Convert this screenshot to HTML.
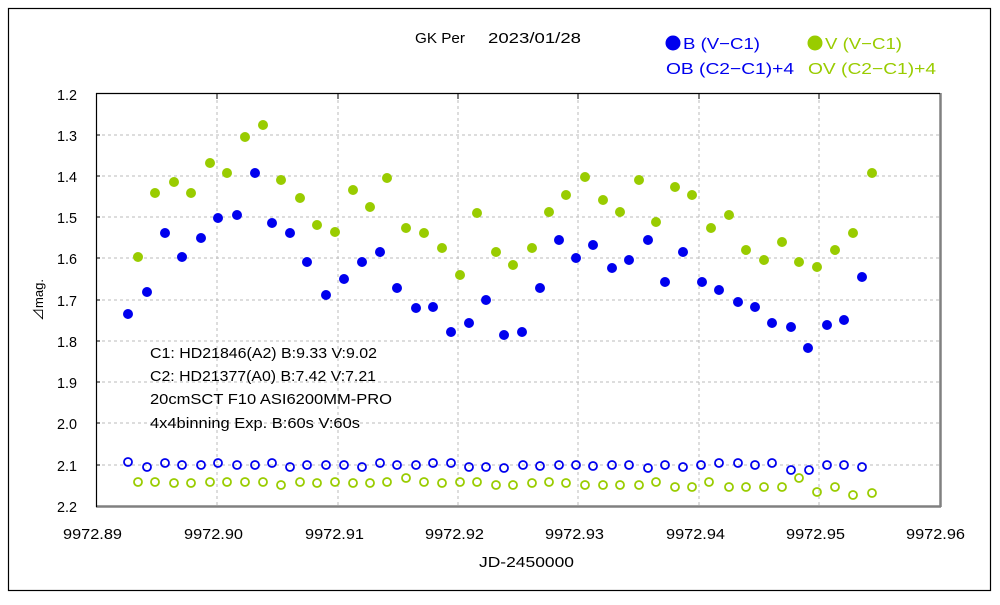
<!DOCTYPE html>
<html><head><meta charset="utf-8"><style>
body{margin:0;background:#fff;}
svg text{font-family:"Liberation Sans","Noto Sans CJK JP",sans-serif;}
</style></head><body>
<svg width="1000" height="600" xmlns="http://www.w3.org/2000/svg">
<rect x="0" y="0" width="1000" height="600" fill="#fff"/>
<rect x="8.5" y="8.5" width="982" height="582" fill="none" stroke="#000" stroke-width="1.2"/>
<g stroke="#bbb" stroke-dasharray="3,3" stroke-width="1">
<line x1="96" y1="135" x2="940" y2="135"/><line x1="96" y1="176" x2="940" y2="176"/>
<line x1="96" y1="217" x2="940" y2="217"/><line x1="96" y1="258" x2="940" y2="258"/>
<line x1="96" y1="300" x2="940" y2="300"/><line x1="96" y1="341" x2="940" y2="341"/>
<line x1="96" y1="382" x2="940" y2="382"/><line x1="96" y1="423" x2="940" y2="423"/>
<line x1="96" y1="465" x2="940" y2="465"/>
<line x1="217" y1="94" x2="217" y2="506"/><line x1="338" y1="94" x2="338" y2="506"/>
<line x1="458" y1="94" x2="458" y2="506"/><line x1="578" y1="94" x2="578" y2="506"/>
<line x1="699" y1="94" x2="699" y2="506"/><line x1="819" y1="94" x2="819" y2="506"/>
</g>
<g stroke="#000" stroke-width="1">
<line x1="96" y1="135" x2="100" y2="135"/><line x1="96" y1="176" x2="100" y2="176"/>
<line x1="96" y1="217" x2="100" y2="217"/><line x1="96" y1="258" x2="100" y2="258"/>
<line x1="96" y1="300" x2="100" y2="300"/><line x1="96" y1="341" x2="100" y2="341"/>
<line x1="96" y1="382" x2="100" y2="382"/><line x1="96" y1="423" x2="100" y2="423"/>
<line x1="96" y1="465" x2="100" y2="465"/>
<line x1="217" y1="94" x2="217" y2="99"/><line x1="338" y1="94" x2="338" y2="99"/>
<line x1="458" y1="94" x2="458" y2="99"/><line x1="578" y1="94" x2="578" y2="99"/>
<line x1="699" y1="94" x2="699" y2="99"/><line x1="819" y1="94" x2="819" y2="99"/>
</g>
<line x1="96" y1="506.5" x2="941" y2="506.5" stroke="#808080" stroke-width="2.5"/>
<line x1="940.5" y1="93" x2="940.5" y2="507" stroke="#808080" stroke-width="2.5"/>
<line x1="96" y1="93.5" x2="940" y2="93.5" stroke="#000" stroke-width="1.2"/>
<line x1="96.5" y1="93" x2="96.5" y2="507" stroke="#000" stroke-width="1.2"/>
<g font-size="15" fill="#000">
<text x="57" y="100" textLength="20" lengthAdjust="spacingAndGlyphs">1.2</text><text x="57" y="141" textLength="20" lengthAdjust="spacingAndGlyphs">1.3</text><text x="57" y="182" textLength="20" lengthAdjust="spacingAndGlyphs">1.4</text>
<text x="57" y="223" textLength="20" lengthAdjust="spacingAndGlyphs">1.5</text><text x="57" y="264" textLength="20" lengthAdjust="spacingAndGlyphs">1.6</text><text x="57" y="306" textLength="20" lengthAdjust="spacingAndGlyphs">1.7</text>
<text x="57" y="347" textLength="20" lengthAdjust="spacingAndGlyphs">1.8</text><text x="57" y="388" textLength="20" lengthAdjust="spacingAndGlyphs">1.9</text><text x="57" y="429" textLength="20" lengthAdjust="spacingAndGlyphs">2.0</text>
<text x="57" y="471" textLength="20" lengthAdjust="spacingAndGlyphs">2.1</text><text x="57" y="512" textLength="20" lengthAdjust="spacingAndGlyphs">2.2</text>
</g>
<g font-size="15" fill="#000">
<text x="63" y="539" textLength="59" lengthAdjust="spacingAndGlyphs">9972.89</text><text x="184" y="539" textLength="59" lengthAdjust="spacingAndGlyphs">9972.90</text><text x="305" y="539" textLength="59" lengthAdjust="spacingAndGlyphs">9972.91</text>
<text x="425" y="539" textLength="59" lengthAdjust="spacingAndGlyphs">9972.92</text><text x="545" y="539" textLength="59" lengthAdjust="spacingAndGlyphs">9972.93</text><text x="666" y="539" textLength="59" lengthAdjust="spacingAndGlyphs">9972.94</text>
<text x="786" y="539" textLength="59" lengthAdjust="spacingAndGlyphs">9972.95</text><text x="906" y="539" textLength="59" lengthAdjust="spacingAndGlyphs">9972.96</text>
<text x="479" y="567" textLength="95" lengthAdjust="spacingAndGlyphs">JD-2450000</text>
</g>
<text x="43" y="300" font-size="13" text-anchor="middle" transform="rotate(-90 43 300)">⊿mag.</text>
<text x="415" y="43" font-size="15" textLength="50" lengthAdjust="spacingAndGlyphs">GK Per</text>
<text x="488" y="43" font-size="15" textLength="93" lengthAdjust="spacingAndGlyphs">2023/01/28</text>
<g font-size="16">
<circle cx="673" cy="43" r="7.5" fill="#0000ee"/><text x="683" y="49" fill="#0000ee" textLength="77" lengthAdjust="spacingAndGlyphs">B (V−C1)</text>
<circle cx="815" cy="43" r="7.5" fill="#99cc00"/><text x="825" y="49" fill="#99cc00" textLength="77" lengthAdjust="spacingAndGlyphs">V (V−C1)</text>
<text x="666" y="74" fill="#0000ee" textLength="128" lengthAdjust="spacingAndGlyphs">OB (C2−C1)+4</text>
<text x="808" y="74" fill="#99cc00" textLength="128" lengthAdjust="spacingAndGlyphs">OV (C2−C1)+4</text>
</g>
<g font-size="15" fill="#000">
<text x="150" y="358" textLength="227" lengthAdjust="spacingAndGlyphs">C1: HD21846(A2) B:9.33 V:9.02</text>
<text x="150" y="381" textLength="226" lengthAdjust="spacingAndGlyphs">C2: HD21377(A0) B:7.42 V:7.21</text>
<text x="150" y="404" textLength="242" lengthAdjust="spacingAndGlyphs">20cmSCT F10 ASI6200MM-PRO</text>
<text x="150" y="428" textLength="210" lengthAdjust="spacingAndGlyphs">4x4binning Exp. B:60s  V:60s</text>
</g>
<g fill="#0000ee">
<circle cx="128" cy="314" r="5"/><circle cx="147" cy="292" r="5"/><circle cx="165" cy="233" r="5"/><circle cx="182" cy="257" r="5"/><circle cx="201" cy="238" r="5"/><circle cx="218" cy="218" r="5"/><circle cx="237" cy="215" r="5"/><circle cx="255" cy="173" r="5"/><circle cx="272" cy="223" r="5"/><circle cx="290" cy="233" r="5"/><circle cx="307" cy="262" r="5"/><circle cx="326" cy="295" r="5"/><circle cx="344" cy="279" r="5"/><circle cx="362" cy="262" r="5"/><circle cx="380" cy="252" r="5"/><circle cx="397" cy="288" r="5"/><circle cx="416" cy="308" r="5"/><circle cx="433" cy="307" r="5"/><circle cx="451" cy="332" r="5"/><circle cx="469" cy="323" r="5"/><circle cx="486" cy="300" r="5"/><circle cx="504" cy="335" r="5"/><circle cx="522" cy="332" r="5"/><circle cx="540" cy="288" r="5"/><circle cx="559" cy="240" r="5"/><circle cx="576" cy="258" r="5"/><circle cx="593" cy="245" r="5"/><circle cx="612" cy="268" r="5"/><circle cx="629" cy="260" r="5"/><circle cx="648" cy="240" r="5"/><circle cx="665" cy="282" r="5"/><circle cx="683" cy="252" r="5"/><circle cx="702" cy="282" r="5"/><circle cx="719" cy="290" r="5"/><circle cx="738" cy="302" r="5"/><circle cx="755" cy="307" r="5"/><circle cx="772" cy="323" r="5"/><circle cx="791" cy="327" r="5"/><circle cx="808" cy="348" r="5"/><circle cx="827" cy="325" r="5"/><circle cx="844" cy="320" r="5"/><circle cx="862" cy="277" r="5"/>
</g>
<g fill="#99cc00">
<circle cx="138" cy="257" r="5"/><circle cx="155" cy="193" r="5"/><circle cx="174" cy="182" r="5"/><circle cx="191" cy="193" r="5"/><circle cx="210" cy="163" r="5"/><circle cx="227" cy="173" r="5"/><circle cx="245" cy="137" r="5"/><circle cx="263" cy="125" r="5"/><circle cx="281" cy="180" r="5"/><circle cx="300" cy="198" r="5"/><circle cx="317" cy="225" r="5"/><circle cx="335" cy="232" r="5"/><circle cx="353" cy="190" r="5"/><circle cx="370" cy="207" r="5"/><circle cx="387" cy="178" r="5"/><circle cx="406" cy="228" r="5"/><circle cx="424" cy="233" r="5"/><circle cx="442" cy="248" r="5"/><circle cx="460" cy="275" r="5"/><circle cx="477" cy="213" r="5"/><circle cx="496" cy="252" r="5"/><circle cx="513" cy="265" r="5"/><circle cx="532" cy="248" r="5"/><circle cx="549" cy="212" r="5"/><circle cx="566" cy="195" r="5"/><circle cx="585" cy="177" r="5"/><circle cx="603" cy="200" r="5"/><circle cx="620" cy="212" r="5"/><circle cx="639" cy="180" r="5"/><circle cx="656" cy="222" r="5"/><circle cx="675" cy="187" r="5"/><circle cx="692" cy="195" r="5"/><circle cx="711" cy="228" r="5"/><circle cx="729" cy="215" r="5"/><circle cx="746" cy="250" r="5"/><circle cx="764" cy="260" r="5"/><circle cx="782" cy="242" r="5"/><circle cx="799" cy="262" r="5"/><circle cx="817" cy="267" r="5"/><circle cx="835" cy="250" r="5"/><circle cx="853" cy="233" r="5"/><circle cx="872" cy="173" r="5"/>
</g>
<g fill="none" stroke="#0000ee" stroke-width="1.8">
<circle cx="128" cy="462" r="4"/><circle cx="147" cy="467" r="4"/><circle cx="165" cy="463" r="4"/><circle cx="182" cy="465" r="4"/><circle cx="201" cy="465" r="4"/><circle cx="218" cy="463" r="4"/><circle cx="237" cy="465" r="4"/><circle cx="255" cy="465" r="4"/><circle cx="272" cy="463" r="4"/><circle cx="290" cy="467" r="4"/><circle cx="307" cy="465" r="4"/><circle cx="326" cy="465" r="4"/><circle cx="344" cy="465" r="4"/><circle cx="362" cy="467" r="4"/><circle cx="380" cy="463" r="4"/><circle cx="397" cy="465" r="4"/><circle cx="416" cy="465" r="4"/><circle cx="433" cy="463" r="4"/><circle cx="451" cy="463" r="4"/><circle cx="469" cy="467" r="4"/><circle cx="486" cy="467" r="4"/><circle cx="504" cy="468" r="4"/><circle cx="523" cy="465" r="4"/><circle cx="540" cy="466" r="4"/><circle cx="559" cy="465" r="4"/><circle cx="576" cy="465" r="4"/><circle cx="593" cy="466" r="4"/><circle cx="612" cy="465" r="4"/><circle cx="629" cy="465" r="4"/><circle cx="648" cy="468" r="4"/><circle cx="665" cy="465" r="4"/><circle cx="683" cy="467" r="4"/><circle cx="701" cy="465" r="4"/><circle cx="719" cy="463" r="4"/><circle cx="738" cy="463" r="4"/><circle cx="755" cy="465" r="4"/><circle cx="772" cy="463" r="4"/><circle cx="791" cy="470" r="4"/><circle cx="809" cy="470" r="4"/><circle cx="827" cy="465" r="4"/><circle cx="844" cy="465" r="4"/><circle cx="862" cy="467" r="4"/>
</g>
<g fill="none" stroke="#99cc00" stroke-width="1.8">
<circle cx="138" cy="482" r="4"/><circle cx="155" cy="482" r="4"/><circle cx="174" cy="483" r="4"/><circle cx="191" cy="483" r="4"/><circle cx="210" cy="482" r="4"/><circle cx="227" cy="482" r="4"/><circle cx="245" cy="482" r="4"/><circle cx="263" cy="482" r="4"/><circle cx="281" cy="485" r="4"/><circle cx="300" cy="482" r="4"/><circle cx="317" cy="483" r="4"/><circle cx="335" cy="482" r="4"/><circle cx="353" cy="483" r="4"/><circle cx="370" cy="483" r="4"/><circle cx="387" cy="482" r="4"/><circle cx="406" cy="478" r="4"/><circle cx="424" cy="482" r="4"/><circle cx="442" cy="483" r="4"/><circle cx="460" cy="482" r="4"/><circle cx="477" cy="482" r="4"/><circle cx="496" cy="485" r="4"/><circle cx="513" cy="485" r="4"/><circle cx="532" cy="483" r="4"/><circle cx="549" cy="482" r="4"/><circle cx="566" cy="483" r="4"/><circle cx="585" cy="485" r="4"/><circle cx="603" cy="485" r="4"/><circle cx="620" cy="485" r="4"/><circle cx="639" cy="485" r="4"/><circle cx="656" cy="482" r="4"/><circle cx="675" cy="487" r="4"/><circle cx="692" cy="487" r="4"/><circle cx="709" cy="482" r="4"/><circle cx="729" cy="487" r="4"/><circle cx="746" cy="487" r="4"/><circle cx="764" cy="487" r="4"/><circle cx="782" cy="487" r="4"/><circle cx="799" cy="478" r="4"/><circle cx="817" cy="492" r="4"/><circle cx="835" cy="487" r="4"/><circle cx="853" cy="495" r="4"/><circle cx="872" cy="493" r="4"/>
</g>
</svg>
</body></html>
